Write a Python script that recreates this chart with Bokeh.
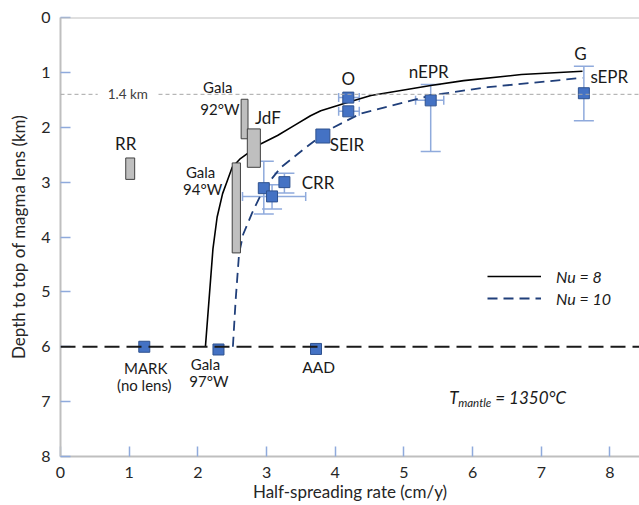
from bokeh.plotting import figure
from bokeh.models import (Range1d, FixedTicker, Span, Label, Whisker, TeeHead,
                          ColumnDataSource, Legend, LegendItem)
from bokeh.embed import file_html
from bokeh.resources import INLINE
from bokeh.core.properties import value

FONT = "Lato"

# ---------------- data ----------------
# model curves: depth to top of magma lens vs half-spreading rate
nu8_rate = [2.11, 2.22, 2.28, 2.36, 2.43, 2.50, 2.62, 2.72, 2.92, 3.16, 3.40, 3.64, 3.79, 4.20, 4.52, 5.39, 5.87, 6.71, 7.60]
nu8_depth = [6.00, 4.21, 3.64, 3.21, 2.97, 2.73, 2.57, 2.48, 2.30, 2.15, 1.97, 1.79, 1.70, 1.54, 1.42, 1.24, 1.15, 1.04, 0.98]

nu10_rate = [2.51, 2.55, 2.60, 2.66, 2.79, 2.96, 3.21, 3.55, 3.77, 3.98, 4.37, 5.39, 6.22, 7.60]
nu10_depth = [6.00, 5.15, 4.30, 3.95, 3.56, 3.12, 2.73, 2.39, 2.18, 2.00, 1.75, 1.42, 1.27, 1.10]

# observed ridges (squares)
site_name = ["MARK", "Gala 97W", "AAD", "CRR a", "CRR b", "CRR c", "SEIR", "O a", "O b", "nEPR", "sEPR"]
site_rate = [1.22, 2.30, 3.72, 2.96, 3.08, 3.26, 3.82, 4.19, 4.19, 5.39, 7.62]
site_depth = [6.00, 6.05, 6.04, 3.11, 3.26, 3.00, 2.16, 1.46, 1.71, 1.51, 1.38]

# vertical error bars (depth)
yerr_rate = [2.96, 3.08, 3.26, 5.39, 7.62]
yerr_lo = [2.62, 3.05, 2.84, 1.22, 0.89]
yerr_hi = [3.58, 3.49, 3.20, 2.44, 1.88]

# horizontal error bars (rate)
xerr_depth = [3.26, 1.46, 1.71, 1.51]
xerr_lo = [2.65, 4.05, 4.05, 5.17]
xerr_hi = [3.57, 4.35, 4.35, 5.58]

# depth ranges (grey bars)
bar_name = ["RR", "Gala 92W", "JdF", "Gala 94W"]
bar_rate_lo = [0.95, 2.63, 2.72, 2.50]
bar_rate_hi = [1.08, 2.73, 2.91, 2.62]
bar_depth_top = [2.56, 1.49, 2.03, 2.65]
bar_depth_bot = [2.95, 2.21, 2.73, 4.29]

ref_depth = 1.4
no_lens_depth = 6.0

x_ticks = [0, 1, 2, 3, 4, 5, 6, 7, 8]
y_ticks = [0, 1, 2, 3, 4, 5, 6, 7, 8]

# ---------------- figure ----------------
p = figure(width=639, height=505, output_backend="svg", toolbar_location=None,
           x_range=Range1d(0, 8.43), y_range=Range1d(8, 0),
           min_border_left=60, min_border_right=0, min_border_top=17, min_border_bottom=49)
p.grid.visible = False
p.outline_line_color = None
p.background_fill_color = "white"
p.border_fill_color = "white"

AXIS_COL = "#bfbfbf"
TICK_COL = "#8faadc"
TXT = "#262626"

for ax in (p.xaxis[0], p.yaxis[0]):
    ax.axis_line_color = AXIS_COL
    ax.axis_line_width = 2
    ax.major_tick_line_color = TICK_COL
    ax.major_tick_line_width = 1.5
    ax.major_tick_in = 10
    ax.major_tick_out = 0
    ax.minor_tick_line_color = None
    ax.major_label_text_font = FONT
    ax.major_label_text_font_size = "16px"
    ax.major_label_text_color = TXT
    ax.axis_label_text_font = FONT
    ax.axis_label_text_font_size = "17px"
    ax.axis_label_text_font_style = "normal"
    ax.axis_label_text_color = TXT

p.xaxis.ticker = FixedTicker(ticks=x_ticks)
p.yaxis.ticker = FixedTicker(ticks=y_ticks)
p.xaxis.axis_label = "Half-spreading rate (cm/y)"
p.yaxis.axis_label = "Depth to top of magma lens (km)"
p.xaxis.major_label_standoff = 10
p.xaxis.axis_label_standoff = 0
p.yaxis.major_label_standoff = 10
p.yaxis.axis_label_standoff = 9

# top border
p.add_layout(Span(location=0, dimension="width", line_color=AXIS_COL, line_width=2))

# reference lines
p.add_layout(Span(location=ref_depth, dimension="width", line_color="#a6a6a6",
                  line_width=1, line_dash="4 3"))
p.add_layout(Span(location=no_lens_depth, dimension="width", line_color="#1a1a1a",
                  line_width=2, line_dash="15 7"))
p.add_layout(Label(x=0.98, y=ref_depth, text="1.4 km", text_align="center",
                   text_baseline="middle", text_font=FONT, text_font_size="13.5px",
                   text_color="#404040", background_fill_color="white", padding=10))

# curves
r8 = p.line(nu8_rate, nu8_depth, line_color="black", line_width=1.6)
r10 = p.line(nu10_rate, nu10_depth, line_color="#203f7a", line_width=1.8, line_dash="10 6")

# grey bars
p.quad(left=bar_rate_lo, right=bar_rate_hi, top=bar_depth_top, bottom=bar_depth_bot,
       fill_color="#bfbfbf", line_color="#404040", line_width=1)

# error bars
ysrc = ColumnDataSource(dict(x=yerr_rate, lo=yerr_lo, hi=yerr_hi))
wy = Whisker(source=ysrc, base="x", lower="lo", upper="hi", dimension="height",
             line_color=TICK_COL, line_width=1.5,
             lower_head=TeeHead(size=20, line_color=TICK_COL, line_width=1.5),
             upper_head=TeeHead(size=20, line_color=TICK_COL, line_width=1.5),
             level="underlay")
p.add_layout(wy)
xsrc = ColumnDataSource(dict(y=xerr_depth, lo=xerr_lo, hi=xerr_hi))
wx = Whisker(source=xsrc, base="y", lower="lo", upper="hi", dimension="width",
             line_color=TICK_COL, line_width=1.5,
             lower_head=TeeHead(size=9, line_color=TICK_COL, line_width=1.5),
             upper_head=TeeHead(size=9, line_color=TICK_COL, line_width=1.5),
             level="underlay")
p.add_layout(wx)

# squares
sizes = [14 if n == "SEIR" else 11 for n in site_name]
ssrc = ColumnDataSource(dict(x=site_rate, y=site_depth, s=sizes))
p.scatter("x", "y", size="s", marker="square", source=ssrc,
          fill_color="#4472c4", line_color="#2f528f", line_width=1)

# annotations: (text, x, y, size)
notes = [
    ("RR", 0.95, 2.30, 17),
    ("Gala", 2.29, 1.27, 15), ("92°W", 2.32, 1.66, 15),
    ("JdF", 3.02, 1.82, 17),
    ("Gala", 2.04, 2.81, 15), ("94°W", 2.07, 3.13, 15),
    ("CRR", 3.75, 3.01, 17),
    ("SEIR", 4.17, 2.31, 17),
    ("O", 4.19, 1.11, 17),
    ("nEPR", 5.36, 0.98, 17),
    ("G", 7.57, 0.66, 17),
    ("sEPR", 7.99, 1.07, 17),
    ("MARK", 1.24, 6.38, 15), ("(no lens)", 1.22, 6.70, 15),
    ("Gala", 2.11, 6.32, 15), ("97°W", 2.16, 6.63, 15),
    ("AAD", 3.76, 6.36, 15.5),
]
for t, x, y, fs in notes:
    p.add_layout(Label(x=x, y=y, text=t, text_align="center", text_baseline="middle",
                       text_font=FONT, text_font_size=f"{fs}px", text_color="#1a1a1a"))

# T_mantle label
p.add_layout(Label(x=5.66, y=6.92, text="T", text_align="left", text_baseline="alphabetic",
                   text_font=FONT, text_font_size="17px", text_font_style="italic", text_color="#1a1a1a"))
p.add_layout(Label(x=5.79, y=7.01, text="mantle", text_align="left", text_baseline="alphabetic",
                   text_font=FONT, text_font_size="11.5px", text_font_style="italic", text_color="#1a1a1a"))
p.add_layout(Label(x=6.33, y=6.92, text="= 1350°C", text_align="left", text_baseline="alphabetic",
                   text_font=FONT, text_font_size="17px", text_font_style="italic", text_color="#1a1a1a"))

# legend
leg = Legend(items=[LegendItem(label="Nu = 8", renderers=[r8]),
                    LegendItem(label="Nu = 10", renderers=[r10])],
             location=(427, 148), orientation="vertical",
             glyph_width=54, glyph_height=20, spacing=2, padding=0, margin=0,
             label_standoff=15, label_text_font=FONT, label_text_font_size="16px",
             label_text_font_style="italic", label_text_color="#1a1a1a",
             border_line_color=None, background_fill_alpha=0)
p.add_layout(leg)

open("out.html", "w").write(file_html(p, INLINE))
